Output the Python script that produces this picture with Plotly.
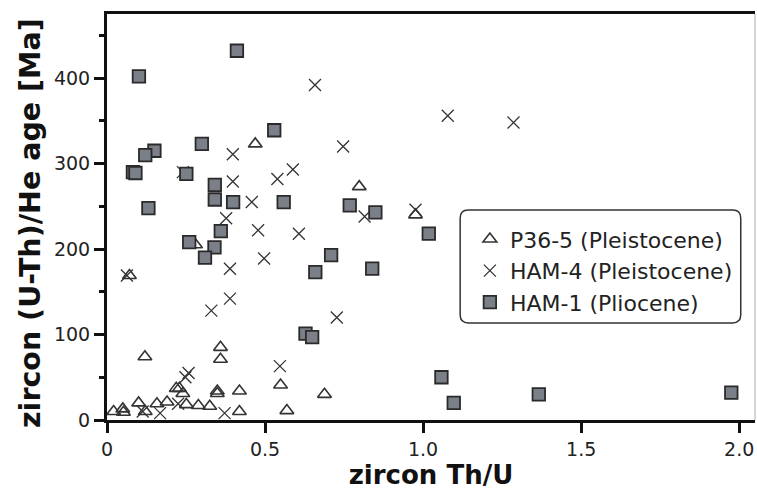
import plotly.graph_objects as go

# P36-5 (Pleistocene) - open triangles
p36_thu = [0.469, 0.798, 0.976, 0.280, 0.071, 0.359, 0.359, 0.120, 0.549, 0.688, 0.419,
           0.349, 0.349, 0.219, 0.229, 0.240, 0.190, 0.158, 0.100, 0.121, 0.251, 0.289,
           0.325, 0.419, 0.569, 0.021, 0.050, 0.052]
p36_age = [323, 273, 240, 205, 169, 85, 71, 74, 41, 30, 34,
           34, 31, 37, 37, 31, 21, 19, 20, 10, 18, 17,
           16, 10, 11, 10, 13, 9]

# HAM-4 (Pleistocene) - crosses
ham4_thu = [0.658, 0.747, 0.398, 0.588, 0.539, 0.398, 0.458, 0.240, 0.815, 0.976, 0.377,
            1.078, 1.286, 0.478, 0.607, 0.497, 0.389, 0.389, 0.330, 0.727, 0.063, 0.547,
            0.258, 0.248, 0.372, 0.168, 0.225, 0.113]
ham4_age = [392, 320, 311, 293, 282, 279, 255, 290, 238, 246, 236,
            356, 348, 222, 218, 189, 177, 142, 128, 120, 169, 63,
            55, 50, 8, 8, 19, 10]

# HAM-1 (Pliocene) - grey squares
ham1_thu = [0.411, 0.101, 0.529, 0.300, 0.150, 0.121, 0.082, 0.090, 0.251, 0.341, 0.341,
            0.399, 0.559, 0.131, 0.768, 0.849, 1.018, 0.360, 0.260, 0.340, 0.310, 0.709,
            0.659, 0.839, 0.628, 0.649, 1.058, 1.097, 1.366, 1.975]
ham1_age = [432, 402, 339, 323, 315, 310, 290, 289, 288, 275, 258,
            255, 255, 248, 251, 243, 218, 221, 208, 202, 190, 193,
            173, 177, 101, 97, 50, 20, 30, 32]

x_ticks = [0, 0.5, 1.0, 1.5, 2.0]
x_ticktext = ["0", "0.5", "1.0", "1.5", "2.0"]
y_ticks = [0, 100, 200, 300, 400]

FONT = "DejaVu Sans"
INK = "#222222"

fig = go.Figure()
fig.add_trace(go.Scatter(
    x=p36_thu, y=p36_age, mode="markers", name="P36-5 (Pleistocene)",
    marker=dict(symbol="triangle-up-open", size=12, color="#333333",
                line=dict(width=1.6, color="#333333"))))
fig.add_trace(go.Scatter(
    x=ham4_thu, y=ham4_age, mode="markers", name="HAM-4 (Pleistocene)",
    marker=dict(symbol="x-thin-open", size=12, color="#333333",
                line=dict(width=1.3, color="#333333"))))
fig.add_trace(go.Scatter(
    x=ham1_thu, y=ham1_age, mode="markers", name="HAM-1 (Pliocene)",
    marker=dict(symbol="square", size=12.5, color="#7b8088",
                line=dict(width=1.8, color="#2a2a2a"))))

# rounded legend frame (paper coords)
x0, x1, y0, y1 = 0.545, 0.978, 0.239, 0.517
rx, ry = 0.0125, 0.02
path = (f"M {x0+rx},{y1} L {x1-rx},{y1} Q {x1},{y1} {x1},{y1-ry} "
        f"L {x1},{y0+ry} Q {x1},{y0} {x1-rx},{y0} "
        f"L {x0+rx},{y0} Q {x0},{y0} {x0},{y0+ry} "
        f"L {x0},{y1-ry} Q {x0},{y1} {x0+rx},{y1} Z")

fig.update_layout(
    width=757, height=491,
    margin=dict(l=107, r=2, t=14, b=71),
    paper_bgcolor="white", plot_bgcolor="white",
    font=dict(family=FONT, color=INK),
    showlegend=True,
    legend=dict(x=0.56, y=0.497, xanchor="left", yanchor="top",
                bgcolor="rgba(0,0,0,0)", borderwidth=0,
                font=dict(family=FONT, size=22, color=INK),
                itemsizing="trace"),
    shapes=[
        dict(type="path", path=path, xref="paper", yref="paper",
             line=dict(color="#333333", width=1.5), fillcolor="white", layer="above"),
        dict(type="line", xref="paper", yref="paper", x0=1, x1=1, y0=0, y1=1,
             line=dict(color="#aaaaaa", width=1)),
    ],
    annotations=[
        dict(text="<b>zircon (U-Th)/He age [Ma]</b>", xref="paper", yref="paper",
             x=-0.119, y=0.485, xanchor="center", yanchor="middle", textangle=-90,
             showarrow=False, font=dict(family=FONT, size=28.5, color="#111111")),
    ],
    xaxis=dict(
        range=[0, 2.05], showgrid=False, zeroline=False,
        showline=True, linecolor="#111111", linewidth=3, mirror=True,
        ticks="outside", ticklen=10, tickwidth=3, tickcolor="#111111",
        tickvals=x_ticks, ticktext=x_ticktext,
        tickfont=dict(family=FONT, size=19, color=INK),
        title=dict(text="<b>zircon Th/U</b>", font=dict(family=FONT, size=26, color="#111111"),
                   standoff=7),
    ),
    yaxis=dict(
        range=[0, 475], showgrid=False, zeroline=False,
        showline=True, linecolor="#111111", linewidth=3, mirror=False,
        ticks="outside", ticklen=10, tickwidth=2.5, tickcolor="#111111",
        tickvals=y_ticks,
        tickfont=dict(family=FONT, size=19, color=INK),
        minor=dict(dtick=50, ticks="outside", ticklen=5, tickwidth=2.5, tickcolor="#111111"),
    ),
)

fig.write_html("out.html")
